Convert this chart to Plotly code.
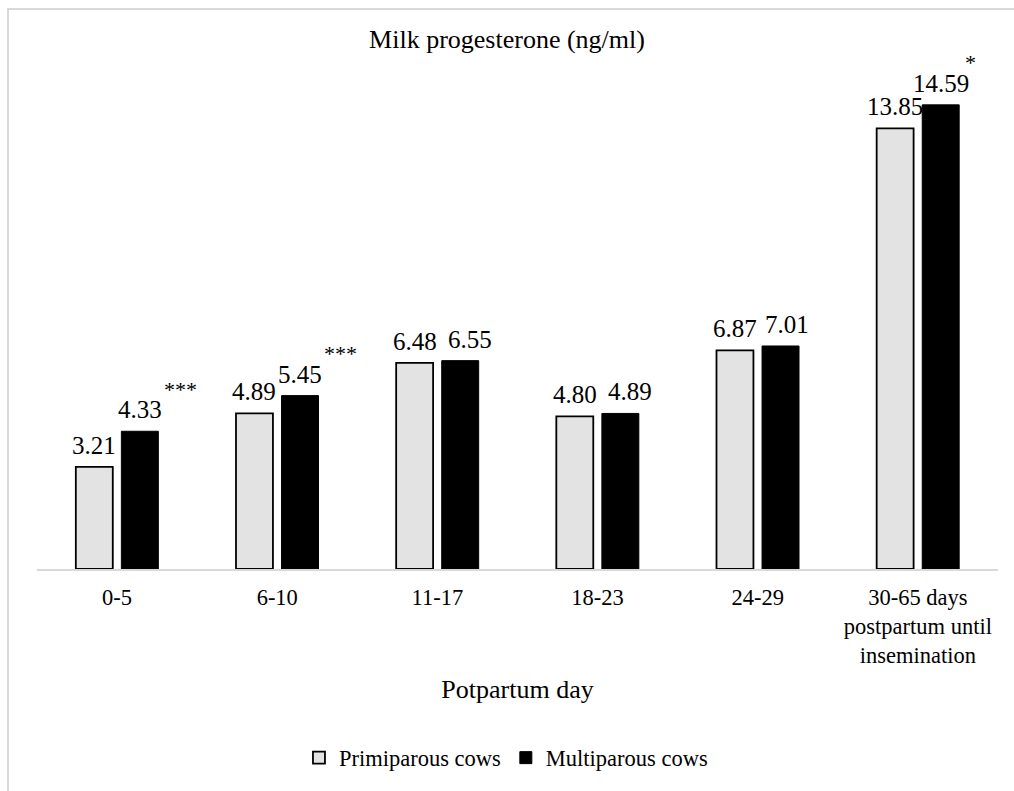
import plotly.graph_objects as go

categories = ["0-5", "6-10", "11-17", "18-23", "24-29",
              "30-65 days<br>postpartum until<br>insemination"]
primiparous = [3.21, 4.89, 6.48, 4.80, 6.87, 13.85]
multiparous = [4.33, 5.45, 6.55, 4.89, 7.01, 14.59]
multi_sig = ["***", "***", "", "", "", "*"]

# style: horizontal nudge (px) of multiparous value labels to avoid overlap
MULTI_LABEL_NUDGE = [0, 0, 10, 10, 6.5, 0]

W, H = 1014, 791
ML, MR, MT, MB = 37, 16, 60, 222
BARGAP = 0.431
GROUPGAP = 0.189
FONT = "Liberation Serif"

plot_w = W - ML - MR
plot_h = H - MT - MB
cat_w = plot_w / len(categories)
bar_off = (1 - BARGAP) * cat_w / 4

fig = go.Figure()
fig.add_trace(go.Bar(
    x=categories, y=primiparous, name="Primiparous cows",
    marker=dict(color="#E3E3E3", line=dict(color="#000000", width=1.8)),
))
fig.add_trace(go.Bar(
    x=categories, y=multiparous, name="Multiparous cows",
    marker=dict(color="#000000", line=dict(color="#000000", width=1)),
))

annotations = []
for c, v in zip(categories, primiparous):
    annotations.append(dict(
        x=c, y=v, xref="x", yref="y", text=f"{v:.2f}",
        showarrow=False, xanchor="center", yanchor="bottom",
        xshift=-bar_off, yshift=6,
        font=dict(family=FONT, size=25, color="#000000"),
    ))
for c, v, n in zip(categories, multiparous, MULTI_LABEL_NUDGE):
    annotations.append(dict(
        x=c, y=v, xref="x", yref="y", text=f"{v:.2f}",
        showarrow=False, xanchor="center", yanchor="bottom",
        xshift=bar_off + n, yshift=6,
        font=dict(family=FONT, size=25, color="#000000"),
    ))
for c, v, s in zip(categories, multiparous, multi_sig):
    if s:
        annotations.append(dict(
            x=c, y=v, xref="x", yref="y", text=s,
            showarrow=False, xanchor="left", yanchor="middle",
            xshift=bar_off + 22, yshift=42,
            font=dict(family=FONT, size=22, color="#000000"),
        ))

fig.update_layout(
    width=W, height=H,
    margin=dict(l=ML, r=MR, t=MT, b=MB),
    paper_bgcolor="#FFFFFF", plot_bgcolor="#FFFFFF",
    barmode="group", bargap=BARGAP, bargroupgap=GROUPGAP,
    font=dict(family=FONT, color="#000000"),
    title=dict(text="Milk progesterone (ng/ml)", x=0.5, xanchor="center",
               y=1 - 39 / H, yanchor="middle",
               font=dict(family=FONT, size=26, color="#000000")),
    xaxis=dict(
        showline=True, linecolor="#D9D9D9", linewidth=1.5,
        showgrid=False, zeroline=False, ticks="",
        ticklabelstandoff=7,
        tickfont=dict(family=FONT, size=22.5, color="#000000"),
        title=dict(text="Potpartum day", standoff=13,
                   font=dict(family=FONT, size=26, color="#000000")),
    ),
    yaxis=dict(range=[0, 16], visible=False, showgrid=False, zeroline=False),
    legend=dict(orientation="h", x=0.488, xanchor="center",
                y=(MB - (H - 758)) / -plot_h, yanchor="middle",
                font=dict(family=FONT, size=22.5, color="#000000"),
                traceorder="normal"),
    annotations=annotations,
    shapes=[dict(
        type="rect", xref="paper", yref="paper",
        x0=(8 - ML) / plot_w, x1=(W + 10 - ML) / plot_w,
        y0=(MB - (H + 10)) / plot_h, y1=(H - MB - 9) / plot_h,
        line=dict(color="#D9D9D9", width=2), layer="below",
    )],
)

fig.write_html("out.html")
